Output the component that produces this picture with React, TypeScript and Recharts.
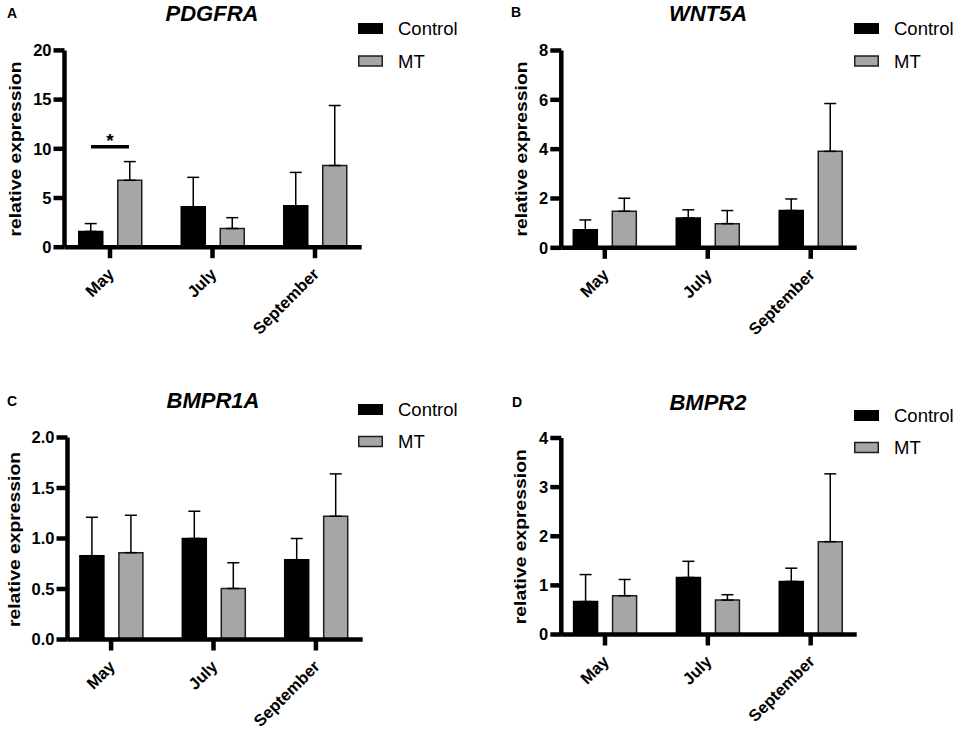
import { BarChart, Bar, XAxis, YAxis, ErrorBar, ReferenceLine } from 'recharts';

const MONTHS = ['May', 'July', 'September'];
const SERIES = ['Control', 'MT'];

// PDGFRA
const pdgfraControl = [1.6, 4.1, 4.2];
const pdgfraControlErr = [0.8, 3.0, 3.4];
const pdgfraMt = [6.8, 1.9, 8.3];
const pdgfraMtErr = [1.9, 1.1, 6.1];
const pdgfraTicks = [0, 5, 10, 15, 20];
const pdgfraSigMonth = 'May';
const pdgfraSigLevel = 10.2;

// WNT5A
const wnt5aControl = [0.73, 1.21, 1.51];
const wnt5aControlErr = [0.4, 0.33, 0.47];
const wnt5aMt = [1.48, 0.98, 3.91];
const wnt5aMtErr = [0.53, 0.53, 1.94];
const wnt5aTicks = [0, 2, 4, 6, 8];

// BMPR1A
const bmpr1aControl = [0.83, 1.0, 0.79];
const bmpr1aControlErr = [0.38, 0.27, 0.21];
const bmpr1aMt = [0.86, 0.505, 1.22];
const bmpr1aMtErr = [0.37, 0.255, 0.42];
const bmpr1aTicks = [0, 0.5, 1.0, 1.5, 2.0];

// BMPR2
const bmpr2Control = [0.67, 1.16, 1.08];
const bmpr2ControlErr = [0.55, 0.33, 0.27];
const bmpr2Mt = [0.79, 0.7, 1.89];
const bmpr2MtErr = [0.33, 0.11, 1.38];
const bmpr2Ticks = [0, 1, 2, 3, 4];

const FONT = '"Liberation Sans", Arial, Helvetica, sans-serif';
const GRAY = '#a6a6a8';
const W = 478;
const H = 366;

// heavy prism-style axes
const AXIS_CSS = `
.recharts-cartesian-axis-line { stroke: #000 !important; stroke-width: 4.5px !important; }
.recharts-cartesian-axis-tick-line { stroke: #000 !important; stroke-width: 4.5px !important; }
`;

const rows = (c: number[], ce: number[], m: number[], me: number[]) =>
  MONTHS.map((month, i) => ({
    month,
    control: c[i],
    controlErr: [0, ce[i]],
    mt: m[i],
    mtErr: [0, me[i]],
  }));

function MonthTick({ x, y, payload }: any) {
  const ax = x + 5;
  const ay = y + 15;
  return (
    <text
      x={ax}
      y={ay}
      transform={`rotate(-45 ${ax} ${ay})`}
      textAnchor="end"
      fontSize={16.5}
      fontWeight={700}
      fill="#000"
      stroke="none"
      fontFamily={FONT}
    >
      {payload.value}
    </text>
  );
}

function ValueTick({ x, y, payload, fmt }: any) {
  const v = fmt ? fmt(payload.value) : String(payload.value);
  return (
    <text x={x} y={y + 5.8} textAnchor="end" fontSize={16.5} fontWeight={700} fill="#000" stroke="none" fontFamily={FONT}>
      {v}
    </text>
  );
}

const SigBar = (p: any) => {
  const { x1, y1 } = p;
  return (
    <g>
      <line x1={x1 - 19} x2={x1 + 19} y1={y1} y2={y1} stroke="#000" strokeWidth={3.5} />
      <text x={x1} y={y1} textAnchor="middle" fontSize={19} fontWeight={700} fill="#000" fontFamily={FONT}>*</text>
    </g>
  );
};

type PanelCfg = {
  left: number;
  top: number;
  letter: string;
  letterPos: [number, number];
  title: string;
  titlePos: [number, number];
  yLabelPos: [number, number];
  legendX: number;
  legendY: [number, number];
  data: any[];
  ticks: number[];
  fmt?: (v: number) => string;
  margin: { top: number; right: number; bottom: number; left: number };
  pad: { left: number; right: number };
  sig?: { month: string; level: number };
};

function Panel({ cfg }: { cfg: PanelCfg }) {
  const { margin, ticks } = cfg;
  return (
    <div style={{ position: 'absolute', left: cfg.left, top: cfg.top, width: W, height: H }}>
      <BarChart width={W} height={H} data={cfg.data} margin={margin} barSize={24} barGap={15}>
        <Bar dataKey="control" name={SERIES[0]} fill="#000" stroke="#000" strokeWidth={1.5} isAnimationActive={false}>
          <ErrorBar dataKey="controlErr" direction="y" width={6} stroke="#000" strokeWidth={1.5} />
        </Bar>
        <Bar dataKey="mt" name={SERIES[1]} fill={GRAY} stroke="#1e1e1e" strokeWidth={1.5} isAnimationActive={false}>
          <ErrorBar dataKey="mtErr" direction="y" width={6} stroke="#000" strokeWidth={1.5} />
        </Bar>
        <XAxis
          dataKey="month"
          interval={0}
          height={70}
          tickSize={11}
          padding={cfg.pad}
          stroke="#000"
          axisLine={{ stroke: '#000', strokeWidth: 4.5 }}
          tickLine={{ stroke: '#000', strokeWidth: 4.5 }}
          tick={<MonthTick />}
        />
        <YAxis
          width={40}
          domain={[0, ticks[ticks.length - 1]]}
          ticks={ticks}
          interval={0}
          tickSize={11}
          tickMargin={2}
          stroke="#000"
          axisLine={{ stroke: '#000', strokeWidth: 4.5 }}
          tickLine={{ stroke: '#000', strokeWidth: 4.5 }}
          tick={<ValueTick fmt={cfg.fmt} />}
        />
        {cfg.sig && (
          <ReferenceLine
            segment={[
              { x: cfg.sig.month, y: cfg.sig.level },
              { x: cfg.sig.month, y: cfg.sig.level },
            ]}
            shape={SigBar}
            ifOverflow="visible"
          />
        )}
      </BarChart>
      <svg
        width={W}
        height={H}
        style={{ position: 'absolute', left: 0, top: 0, pointerEvents: 'none', fontFamily: FONT }}
      >
        <text x={cfg.letterPos[0]} y={cfg.letterPos[1] + 5} textAnchor="middle" fontSize={14} fontWeight={700} fill="#000">
          {cfg.letter}
        </text>
        <text
          x={cfg.titlePos[0]}
          y={cfg.titlePos[1] + 8}
          textAnchor="middle"
          fontSize={22}
          fontWeight={700}
          fontStyle="italic"
          fill="#000"
        >
          {cfg.title}
        </text>
        <text
          x={cfg.yLabelPos[0] + 5.5}
          y={cfg.yLabelPos[1]}
          transform={`rotate(-90 ${cfg.yLabelPos[0] + 5.5} ${cfg.yLabelPos[1]})`}
          textAnchor="middle"
          fontSize={16.5}
          fontWeight={700}
          fill="#000"
          textLength={175}
          lengthAdjust="spacingAndGlyphs"
        >
          relative expression
        </text>
        <rect x={cfg.legendX} y={cfg.legendY[0] - 5.5} width={25} height={11} fill="#000" />
        <text x={cfg.legendX + 40} y={cfg.legendY[0] + 6.6} fontSize={18.5} fill="#000">
          {SERIES[0]}
        </text>
        <rect
          x={cfg.legendX + 0.75}
          y={cfg.legendY[1] - 5}
          width={23.5}
          height={10}
          fill={GRAY}
          stroke="#1e1e1e"
          strokeWidth={1.5}
        />
        <text x={cfg.legendX + 40} y={cfg.legendY[1] + 6.6} fontSize={18.5} fill="#000">
          {SERIES[1]}
        </text>
      </svg>
    </div>
  );
}

const panels: PanelCfg[] = [
  {
    left: 0,
    top: 0,
    letter: 'A',
    letterPos: [12, 13],
    title: 'PDGFRA',
    titlePos: [212, 13],
    yLabelPos: [15, 149],
    legendX: 358,
    legendY: [28.5, 61],
    data: rows(pdgfraControl, pdgfraControlErr, pdgfraMt, pdgfraMtErr),
    ticks: pdgfraTicks,
    margin: { top: 50.4, right: 116.3, bottom: 48.8, left: 24.5 },
    pad: { left: -5.75, right: -4.55 },
    sig: { month: pdgfraSigMonth, level: pdgfraSigLevel },
  },
  {
    left: 478,
    top: 0,
    letter: 'B',
    letterPos: [38, 12],
    title: 'WNT5A',
    titlePos: [230, 13],
    yLabelPos: [43, 149],
    legendX: 376,
    legendY: [28.5, 61],
    data: rows(wnt5aControl, wnt5aControlErr, wnt5aMt, wnt5aMtErr),
    ticks: wnt5aTicks,
    margin: { top: 50.5, right: 99.3, bottom: 48.2, left: 43.3 },
    pad: { left: -8, right: -5.5 },
  },
  {
    left: 0,
    top: 366,
    letter: 'C',
    letterPos: [12, 35],
    title: 'BMPR1A',
    titlePos: [213, 34],
    yLabelPos: [14, 173.5],
    legendX: 358,
    legendY: [43.5, 75.5],
    data: rows(bmpr1aControl, bmpr1aControlErr, bmpr1aMt, bmpr1aMtErr),
    ticks: bmpr1aTicks,
    fmt: (v: number) => v.toFixed(1),
    margin: { top: 71.5, right: 115.3, bottom: 22.5, left: 27.5 },
    pad: { left: -7.6, right: -4.4 },
  },
  {
    left: 478,
    top: 366,
    letter: 'D',
    letterPos: [39, 36],
    title: 'BMPR2',
    titlePos: [230, 36],
    yLabelPos: [43, 170.7],
    legendX: 376,
    legendY: [49.5, 81.5],
    data: rows(bmpr2Control, bmpr2ControlErr, bmpr2Mt, bmpr2MtErr),
    ticks: bmpr2Ticks,
    margin: { top: 72, right: 99.3, bottom: 27.5, left: 43.3 },
    pad: { left: -7.7, right: -5.4 },
  },
];

export default function App() {
  return (
    <div
      style={{
        position: 'absolute',
        left: 0,
        top: 0,
        width: 957,
        height: 733,
        background: '#fff',
        fontFamily: FONT,
        overflow: 'hidden',
      }}
    >
      <style>{AXIS_CSS}</style>
      {panels.map((p) => (
        <Panel key={p.letter} cfg={p} />
      ))}
    </div>
  );
}
